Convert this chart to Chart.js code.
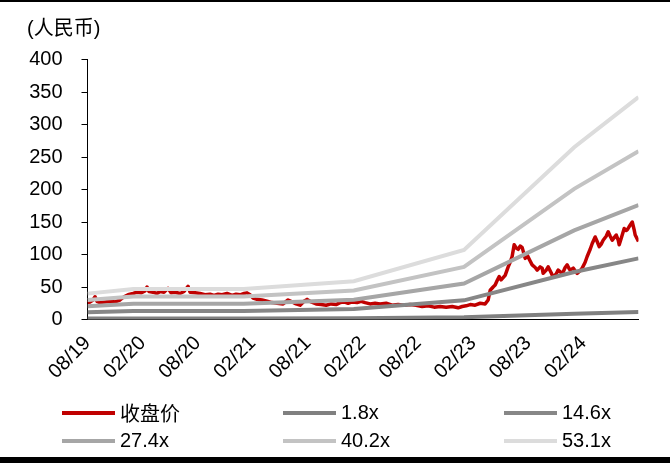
<!DOCTYPE html>
<html>
<head>
<meta charset="utf-8">
<script src="https://cdn.jsdelivr.net/npm/chart.js@4.4.1/dist/chart.umd.min.js"></script>
<style>
  html, body { margin: 0; padding: 0; background: #fff; }
  #wrap { position: relative; width: 670px; height: 463px; overflow: hidden; background: #fff; }
  #c { position: absolute; left: 0; top: 0; }
  .bar { position: absolute; left: 0; width: 670px; background: #000; }
  .lg { position: absolute; height: 24px; display: flex; align-items: center;
        font-family: "Liberation Sans", Arial, "Noto Sans CJK SC", sans-serif; font-size: 20px; color: #000; white-space: nowrap; }
  .lg i { display: inline-block; width: 53px; height: 4px; margin-right: 5px; }
</style>
</head>
<body>
<div id="wrap">
  <canvas id="c" width="670" height="463"></canvas>
  <div class="bar" style="top:0;height:2px"></div>
  <div class="bar" style="top:457px;height:6px"></div>
  <div id="legend"></div>
</div>
<script>
// ---- data ----
const xTickMonths = [0, 6, 12, 18, 24, 30, 36, 42, 48, 54];
const xTickLabels = ['08/19','02/20','08/20','02/21','08/21','02/22','08/22','02/23','08/23','02/24'];

// months since 08/2019
const priceMonths = [0,0.27,0.6,0.82,1.03,1.36,1.91,2.45,3.0,3.54,3.98,4.41,4.96,5.39,5.83,6.26,6.48,6.7,7.14,7.57,7.9,8.33,8.77,9.1,9.53,10.08,10.51,10.95,11.17,11.71,12.25,12.8,13.34,13.78,14.22,14.65,15.2,15.74,16.18,16.61,17.05,17.37,17.7,18.03,18.46,19.01,19.55,20.1,20.64,21.3,21.84,22.28,22.71,23.15,23.58,23.91,24.35,24.89,25.44,25.98,26.53,27.07,27.51,27.94,28.38,28.81,29.36,29.79,30.23,30.77,31.32,31.86,32.52,33.17,33.82,34.48,35.13,35.78,36.44,37.09,37.75,38.4,39.05,39.71,40.36,40.8,41.23,41.67,42.21,42.76,43.3,43.63,43.85,44.17,44.39,44.61,44.83,45.04,45.48,45.81,46.02,46.24,46.46,46.68,46.9,47.11,47.33,47.66,47.88,48.2,48.42,48.75,48.97,49.29,49.51,49.62,49.95,50.16,50.49,50.71,51.03,51.25,51.58,51.8,52.01,52.23,52.45,52.56,52.89,53.1,53.32,53.65,53.87,54.19,54.41,54.74,54.96,55.28,55.5,55.72,55.94,56.15,56.48,56.7,56.92,57.14,57.35,57.57,57.79,57.9,58.12,58.44,58.66,58.77,58.99,59.32,59.53,59.64,59.86,60];
const priceValues = [26,27,30,35,28,26,27,28,27,30,35,38,40,42,41,44,50,43,42,40,43,42,48,41,42,40,43,51,42,41,40,38,39,37,39,38,40,37,39,38,40,41,38,33,31,30,28,26,25,24,30,27,24,22,28,31,27,24,23,22,24,23,26,27,25,27,26,28,26,24,25,24,25,22,23,22,23,22,20,21,19,20,19,20,18,20,21,23,22,25,24,30,45,50,53,60,66,61,68,81,88,97,115,110,108,113,111,94,99,90,84,80,76,81,79,71,76,81,72,65,70,76,72,73,80,84,78,76,79,75,71,75,79,88,97,108,117,127,120,112,116,122,128,135,128,122,126,130,122,115,125,140,137,138,143,150,138,130,124,120];

// PE band lines (kinks at each year turn)
const bandMonths = [0, 5, 17, 29, 41, 53, 60];
const band1_8  = [1.4, 1.6, 1.6, 2.0, 3.6, 9.0, 11.6];
const band14_6 = [11, 13, 13, 16.2, 29.5, 73, 94];
const band27_4 = [20.5, 24.2, 24.2, 30.4, 55.3, 137, 176];
const band40_2 = [30.1, 35.5, 35.5, 44.6, 81, 201, 259];
const band53_1 = [39.8, 47, 47, 59, 107, 265, 342];

const seriesNames = ['收盘价', '1.8x', '14.6x', '27.4x', '40.2x', '53.1x'];
const seriesColors = ['#C00000', '#808080', '#878787', '#A6A6A6', '#C3C3C3', '#DCDCDC'];

// ---- build chart ----
const toXY = (xs, ys) => xs.map((x, i) => ({ x: x, y: ys[i] }));
const bandSets = [band1_8, band14_6, band27_4, band40_2, band53_1];

const datasets = [{
  label: seriesNames[0],
  data: toXY(priceMonths, priceValues),
  borderColor: seriesColors[0],
  borderWidth: 3.5,
  pointRadius: 0,
  tension: 0,
  borderJoinStyle: 'round',
  order: 6
}].concat(bandSets.map((b, i) => ({
  label: seriesNames[i + 1],
  data: toXY(bandMonths, b),
  borderColor: seriesColors[i + 1],
  borderWidth: 4,
  pointRadius: 0,
  tension: 0,
  order: 5 - i
})));

const FONT = '"Liberation Sans", Arial, "Noto Sans CJK SC", sans-serif';
Chart.defaults.font.family = FONT;
Chart.defaults.color = '#000';

new Chart(document.getElementById('c'), {
  type: 'line',
  data: { datasets: datasets },
  options: {
    responsive: false,
    animation: false,
    devicePixelRatio: 1,
    layout: { padding: { left: 27, right: 31.5, top: 0, bottom: 63.5 } },
    plugins: {
      legend: { display: false },
      tooltip: { enabled: false },
      title: {
        display: true,
        text: '(人民币)',
        align: 'start',
        color: '#000',
        font: { size: 20, weight: 'normal', family: FONT },
        padding: { top: 17, bottom: 18.5 }
      }
    },
    scales: {
      x: {
        type: 'linear',
        min: 0,
        max: 60,
        grid: { display: false, drawTicks: false },
        border: { display: true, color: '#000', width: 1 },
        afterBuildTicks: (s) => { s.ticks = xTickMonths.map(v => ({ value: v })); },
        afterFit: (s) => { s.height = 80; },
        ticks: {
          autoSkip: false,
          minRotation: 45,
          maxRotation: 45,
          padding: 12,
          font: { size: 20 },
          color: '#000',
          callback: (v, i) => xTickLabels[i]
        }
      },
      y: {
        min: 0,
        max: 400,
        afterFit: (s) => { s.width = 60.5; },
        grid: { drawOnChartArea: false, drawTicks: true, tickLength: 6, color: '#000' },
        border: { display: true, color: '#000', width: 1 },
        ticks: { stepSize: 50, padding: 19, font: { size: 20 }, color: '#000' }
      }
    }
  }
});

// ---- legend (3 columns x 2 rows) ----
const legendCols = [62, 283, 504];
const legendRows = [400.5, 428.5];
const lg = document.getElementById('legend');
seriesNames.forEach((name, i) => {
  const d = document.createElement('div');
  d.className = 'lg';
  d.style.left = legendCols[i % 3] + 'px';
  d.style.top = legendRows[Math.floor(i / 3)] + 'px';
  const sw = document.createElement('i');
  sw.style.background = seriesColors[i];
  d.appendChild(sw);
  d.appendChild(document.createTextNode(name));
  lg.appendChild(d);
});
</script>
</body>
</html>
